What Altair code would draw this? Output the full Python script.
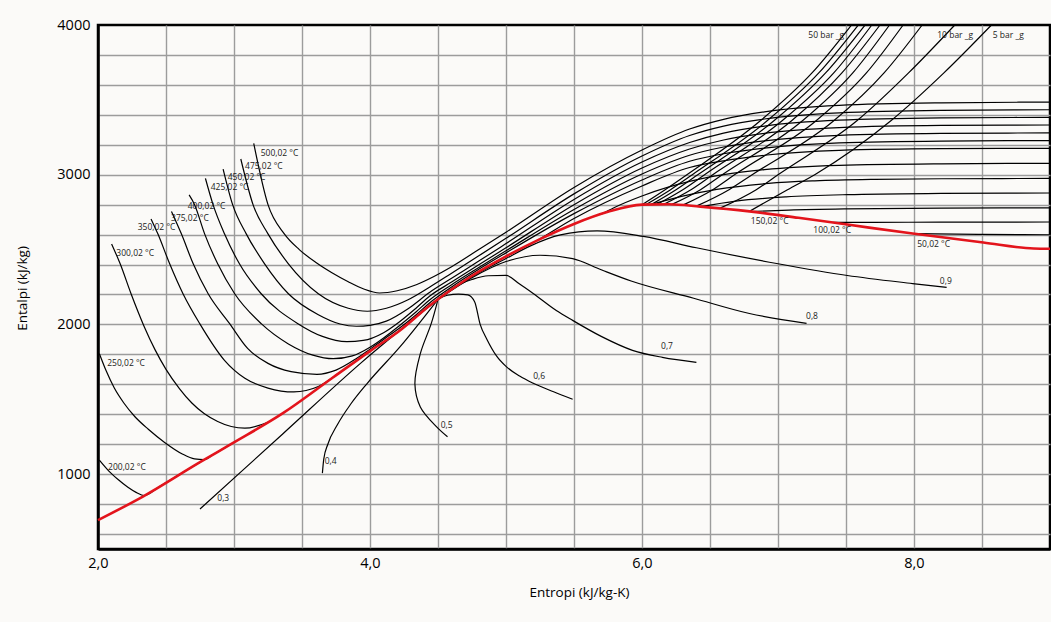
import altair as alt
import pandas as pd

# ---------------- saturation curve (red) ----------------
SAT_S = [2.0, 2.33, 2.75, 2.99, 3.36, 3.73, 4.0, 4.22, 4.44, 4.5, 4.75, 5.0, 5.25, 5.5, 5.75, 6.0, 6.2, 6.43, 6.79, 7.15, 7.51, 7.99, 8.51, 8.88, 9.0]
SAT_H = [693, 850, 1080, 1207, 1407, 1647, 1822, 1960, 2127, 2168, 2325, 2455, 2570, 2671, 2752, 2800, 2803, 2787, 2755, 2712, 2667, 2607, 2547, 2507, 2505]

# ---------------- isotherms ----------------
T500_S = [3.145, 3.25, 3.37, 3.48, 3.60, 3.72, 3.84, 3.95, 4.07, 4.2, 4.34, 4.47, 4.6, 4.8, 5.0, 5.5, 6.0, 6.35, 6.6, 6.9, 7.45, 8.2, 9.0]
T500_H = [3209, 2800, 2605, 2500, 2415, 2345, 2285, 2238, 2210, 2225, 2265, 2320, 2385, 2500, 2616, 2915, 3165, 3305, 3370, 3420, 3463, 3480, 3485]

T475_S = [3.05, 3.14, 3.25, 3.40, 3.62, 3.84, 3.98, 4.12, 4.28, 4.44, 4.6, 4.8, 5.0, 5.5, 6.0, 6.35, 6.6, 6.9, 7.45, 8.2, 9.0]
T475_H = [3105, 2800, 2605, 2405, 2205, 2108, 2088, 2108, 2165, 2250, 2342, 2458, 2575, 2872, 3125, 3262, 3325, 3372, 3413, 3430, 3434]

T450_S = [2.92, 2.99, 3.09, 3.225, 3.40, 3.62, 3.78, 3.90, 4.0, 4.12, 4.28, 4.44, 4.6, 4.8, 5.0, 5.5, 6.0, 6.35, 6.6, 6.9, 7.45, 8.2, 9.0]
T450_H = [3038, 2800, 2605, 2405, 2205, 2065, 2003, 1988, 1994, 2022, 2105, 2215, 2308, 2423, 2540, 2835, 3085, 3215, 3278, 3325, 3364, 3379, 3383]

T425_S = [2.79, 2.846, 2.93, 3.04, 3.20, 3.47, 3.65, 3.83, 3.95, 4.1, 4.22, 4.34, 4.44, 4.6, 4.8, 5.0, 5.5, 6.0, 6.35, 6.6, 6.9, 7.45, 8.2, 9.0]
T425_H = [2975, 2800, 2605, 2405, 2205, 2005, 1920, 1885, 1893, 1945, 2020, 2110, 2190, 2283, 2398, 2512, 2800, 3045, 3172, 3232, 3276, 3314, 3329, 3332]

T400_S = [2.67, 2.71, 2.784, 2.88, 3.005, 3.20, 3.40, 3.58, 3.73, 3.87, 4.0, 4.1, 4.22, 4.34, 4.44, 4.6, 4.8, 5.0, 5.5, 6.0, 6.35, 6.6, 6.9, 7.45, 8.2, 9.0]
T400_H = [2865, 2800, 2605, 2405, 2205, 2005, 1870, 1795, 1771, 1790, 1848, 1910, 1995, 2085, 2165, 2265, 2380, 2492, 2768, 3005, 3130, 3185, 3226, 3263, 3276, 3279]

T375_S = [2.54, 2.613, 2.70, 2.81, 2.968, 3.10, 3.25, 3.42, 3.61, 3.75, 3.9, 4.0, 4.1, 4.22, 4.34, 4.44, 4.6, 4.8, 5.0, 5.5, 6.0, 6.35, 6.6, 6.9, 7.45, 8.2, 9.0]
T375_H = [2755, 2605, 2405, 2205, 2005, 1840, 1740, 1685, 1667, 1695, 1772, 1835, 1900, 1978, 2065, 2145, 2250, 2368, 2478, 2740, 2965, 3090, 3140, 3178, 3213, 3225, 3228]

T350_S = [2.39, 2.44, 2.527, 2.625, 2.748, 2.93, 3.08, 3.25, 3.44, 3.62, 3.78, 4.0, 4.22, 4.44, 4.5, 4.75, 5.0, 5.2, 5.5, 6.0, 6.35, 6.6, 6.9, 7.45, 8.2, 9.0]
T350_H = [2705, 2605, 2405, 2205, 2005, 1760, 1640, 1575, 1549, 1585, 1680, 1822, 1960, 2127, 2168, 2325, 2455, 2547, 2708, 2925, 3048, 3093, 3130, 3163, 3174, 3176]

T300L_S = [2.10, 2.163, 2.243, 2.34, 2.42, 2.50, 2.60, 2.69, 2.78, 2.88, 2.98, 3.08, 3.25]
T300L_H = [2538, 2405, 2205, 1985, 1830, 1700, 1570, 1475, 1405, 1352, 1318, 1307, 1347]
T300R_S = [5.70, 5.79, 6.0, 6.35, 6.6, 6.9, 7.45, 8.2, 9.0]
T300R_H = [2736, 2778, 2858, 2955, 3000, 3034, 3063, 3073, 3076]

T250L_S = [2.01, 2.06, 2.12, 2.19, 2.27, 2.37, 2.49, 2.62, 2.71, 2.78, 2.85, 2.99]
T250L_H = [1805, 1690, 1575, 1475, 1385, 1300, 1212, 1135, 1102, 1097, 1133, 1207]
T250R_S = [6.07, 6.29, 6.55, 6.93, 7.27, 7.71, 8.2, 9.0]
T250R_H = [2802, 2855, 2902, 2942, 2959, 2969, 2973, 2975]

T200L_S = [2.01, 2.08, 2.15, 2.22, 2.28, 2.34, 2.45, 2.6, 2.75]
T200L_H = [1093, 1020, 962, 912, 878, 856, 916, 998, 1080]
T200R_S = [6.43, 6.69, 7.06, 7.51, 8.2, 9.0]
T200R_H = [2787, 2824, 2852, 2867, 2875, 2878]

T150_S = [6.80, 7.08, 7.5, 8.2, 9.0]
T150_H = [2754, 2764, 2772, 2777, 2779]
T100_S = [7.40, 7.7, 8.2, 9.0]
T100_H = [2681, 2682, 2683, 2684]
T50_S = [8.0, 8.5, 9.0]
T50_H = [2606, 2601, 2599]

# ---------------- isobars (bar_g) ----------------
P_LEVEL_H = [2900, 3000, 3360, 3680, 4000]
P50_S = [6.00, 6.17, 6.33, 6.87, 7.25, 7.54]
P45_S = [6.03, 6.21, 6.37, 6.92, 7.30, 7.59]
P40_S = [6.07, 6.25, 6.41, 6.97, 7.35, 7.64]
P35_S = [6.11, 6.30, 6.46, 7.03, 7.41, 7.69]
P30_S = [6.16, 6.36, 6.52, 7.10, 7.47, 7.75]
P25_S = [6.22, 6.43, 6.59, 7.18, 7.55, 7.82]
P20_S = [6.30, 6.52, 6.68, 7.28, 7.65, 7.92]
P15_S = [6.40, 6.64, 6.81, 7.41, 7.78, 8.06]
P10_S = [6.57, 6.84, 7.00, 7.58, 7.96, 8.30]
P5_S = [6.79, 7.07, 7.27, 7.83, 8.22, 8.57]
P_START_H = [2800, 2801, 2802, 2802, 2803, 2802, 2797, 2790, 2775, 2755]

# ---------------- dryness fraction lines ----------------
Q3_S = [2.75, 3.36, 3.93, 4.5]
Q3_H = [767, 1270, 1740, 2168]
Q4_S = [3.65, 3.66, 3.69, 3.76, 3.86, 3.98, 4.22, 4.5]
Q4_H = [1007, 1100, 1200, 1330, 1470, 1607, 1850, 2168]
Q5_S = [4.57, 4.49, 4.37, 4.33, 4.37, 4.45, 4.5]
Q5_H = [1250, 1316, 1449, 1605, 1805, 2005, 2168]
Q6_S = [4.5, 4.57, 4.65, 4.72, 4.77, 4.81, 4.86, 4.93, 5.0, 5.1, 5.2, 5.35, 5.49]
Q6_H = [2168, 2195, 2203, 2198, 2150, 2000, 1900, 1790, 1720, 1655, 1607, 1550, 1500]
Q7_S = [4.5, 4.62, 4.75, 4.87, 5.0, 5.1, 5.2, 5.37, 5.49, 5.7, 5.93, 6.15, 6.4]
Q7_H = [2168, 2250, 2300, 2325, 2327, 2270, 2207, 2093, 2027, 1920, 1827, 1780, 1747]
Q8_S = [4.5, 4.75, 5.0, 5.25, 5.49, 5.7, 5.92, 6.38, 6.79, 7.21]
Q8_H = [2168, 2312, 2420, 2462, 2440, 2365, 2290, 2175, 2073, 2007]
Q9_S = [4.5, 4.75, 5.0, 5.18, 5.4, 5.67, 6.01, 6.4, 6.99, 7.51, 7.99, 8.24]
Q9_H = [2168, 2318, 2440, 2525, 2598, 2625, 2588, 2512, 2407, 2327, 2273, 2247]

# ---------------- labels ----------------
LABEL_TEXT = ["500,02 °C", "475,02 °C", "450,02 °C", "425,02 °C", "400,02 °C", "375,02 °C",
              "350,02 °C", "300,02 °C", "250,02 °C", "200,02 °C", "150,02 °C", "100,02 °C",
              "50,02 °C", "50 bar _g", "10 bar _g", "5 bar _g",
              "0,3", "0,4", "0,5", "0,6", "0,7", "0,8", "0,9"]
LABEL_S = [3.196, 3.081, 2.954, 2.829, 2.66, 2.537, 2.292, 2.135, 2.068, 2.074, 6.80, 7.26,
           8.024, 7.223, 8.171, 8.579, 2.877, 3.667, 4.52, 5.20, 6.14, 7.206, 8.19]
LABEL_H = [3147, 3057, 2987, 2915, 2793, 2713, 2653, 2478, 1740, 1047, 2691, 2633,
           2535, 3930, 3930, 3930, 841, 1091, 1327, 1658, 1853, 2053, 2293]

X_TICKS = [2.0, 2.5, 3.0, 3.5, 4.0, 4.5, 5.0, 5.5, 6.0, 6.5, 7.0, 7.5, 8.0, 8.5, 9.0]
Y_TICKS = [600, 800, 1000, 1200, 1400, 1600, 1800, 2000, 2200, 2400, 2600, 2800,
           3000, 3200, 3400, 3600, 3800, 4000]

# ---------------- build tables ----------------
def rows(name, s_vals, h_vals):
    return [{"series": name, "s": s, "h": h, "i": i} for i, (s, h) in enumerate(zip(s_vals, h_vals))]

black = []
for name, sv, hv in [
    ("T500", T500_S, T500_H), ("T475", T475_S, T475_H), ("T450", T450_S, T450_H),
    ("T425", T425_S, T425_H), ("T400", T400_S, T400_H), ("T375", T375_S, T375_H),
    ("T350", T350_S, T350_H), ("T300L", T300L_S, T300L_H), ("T300R", T300R_S, T300R_H),
    ("T250L", T250L_S, T250L_H), ("T250R", T250R_S, T250R_H), ("T200L", T200L_S, T200L_H),
    ("T200R", T200R_S, T200R_H), ("T150", T150_S, T150_H), ("T100", T100_S, T100_H),
    ("T50", T50_S, T50_H),
    ("Q3", Q3_S, Q3_H), ("Q4", Q4_S, Q4_H), ("Q6", Q6_S, Q6_H), ("Q7", Q7_S, Q7_H),
    ("Q8", Q8_S, Q8_H), ("Q9", Q9_S, Q9_H),
]:
    black += rows(name, sv, hv)

for name, sv, h0 in zip(["P50", "P45", "P40", "P35", "P30", "P25", "P20", "P15", "P10", "P5"],
                        [P50_S, P45_S, P40_S, P35_S, P30_S, P25_S, P20_S, P15_S, P10_S, P5_S],
                        P_START_H):
    black += rows(name, sv, [h0] + P_LEVEL_H)

df_black = pd.DataFrame(black)
df_q5 = pd.DataFrame(rows("Q5", Q5_S, Q5_H))
df_sat = pd.DataFrame(rows("SAT", SAT_S, SAT_H))
df_lab = pd.DataFrame({"label": LABEL_TEXT, "s": LABEL_S, "h": LABEL_H})

FONT = "Open Sans"
GRID = "#9c9c9c"

x_enc = alt.X("s:Q",
              scale=alt.Scale(domain=[2, 9], nice=False, zero=False),
              axis=alt.Axis(values=X_TICKS, grid=True, ticks=False, labelFlush=False,
                            labelOverlap=False,
                            labelExpr="datum.value % 2 === 0 ? replace(format(datum.value, '.1f'), '.', ',') : ''",
                            gridOpacity={"condition": {"test": "datum.value === 2 || datum.value === 9", "value": 0}, "value": 1},
                            labelPadding=7, titleX=481, titleY=43, titleBaseline="middle",
                            titleAlign="center"),
              title="Entropi (kJ/kg-K)")
y_enc = alt.Y("h:Q",
              scale=alt.Scale(domain=[500, 4000], nice=False, zero=False),
              axis=alt.Axis(values=Y_TICKS, grid=True, ticks=False, labelFlush=False,
                            labelOverlap=False,
                            labelExpr="datum.value % 1000 === 0 ? format(datum.value, 'd') : ''",
                            gridOpacity={"condition": {"test": "datum.value === 4000", "value": 0}, "value": 1},
                            labelPadding=8, titleX=-76, titleY=263, titleBaseline="middle",
                            titleAlign="center", titleAngle=-90),
              title="Entalpi (kJ/kg)")

black_layer = alt.Chart(df_black).mark_line(color="black", strokeWidth=1.2, interpolate="monotone").encode(
    x=x_enc, y=y_enc, detail="series:N", order="i:Q")
q5_layer = alt.Chart(df_q5).mark_line(color="black", strokeWidth=1.2, interpolate="catmull-rom").encode(
    x=x_enc, y=y_enc, order="i:Q")
sat_layer = alt.Chart(df_sat).mark_line(color="#e3141c", strokeWidth=2.6, interpolate="monotone").encode(
    x=x_enc, y=y_enc, order="i:Q")
lab_layer = alt.Chart(df_lab).mark_text(align="left", baseline="middle", fontSize=8.5, font=FONT,
                                        color="#1a1a1a").encode(x=x_enc, y=y_enc, text="label:N")

chart = alt.layer(black_layer, q5_layer, sat_layer, lab_layer).properties(
    width=952, height=524,
    padding={"left": 98, "top": 25, "right": 1, "bottom": 73},
    autosize=alt.AutoSizeParams(type="none"),
    background="#fbfaf8",
).configure_view(
    stroke="black", strokeWidth=2.5, fill="#fbfaf8"
).configure_axis(
    gridColor=GRID, gridWidth=1.4, domainColor="black", domainWidth=2.5,
    labelFont=FONT, labelFontSize=14.5, labelColor="black",
    titleFont=FONT, titleFontSize=13.5, titleFontWeight="normal", titleColor="black",
)

chart.save("out.html", embed_options={"renderer": "svg", "actions": False})
